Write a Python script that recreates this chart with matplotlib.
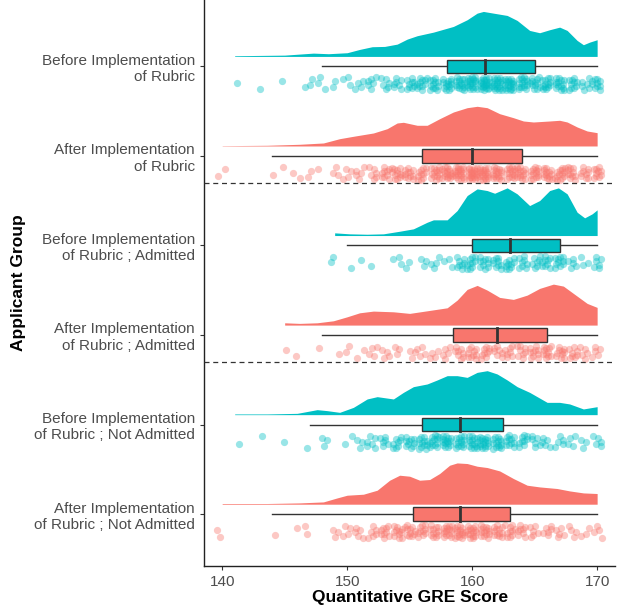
import numpy as np
import matplotlib
matplotlib.use('Agg')
import matplotlib.pyplot as plt

plt.rcParams['font.family'] = ['Liberation Sans', 'DejaVu Sans']

TEAL = '#00BFC4'
SALMON = '#F8766D'

groups = [
    'Before Implementation\nof Rubric',
    'After Implementation\nof Rubric',
    'Before Implementation\nof Rubric ; Admitted',
    'After Implementation\nof Rubric ; Admitted',
    'Before Implementation\nof Rubric ; Not Admitted',
    'After Implementation\nof Rubric ; Not Admitted',
]
colors = [TEAL, SALMON, TEAL, SALMON, TEAL, SALMON]

# density curves (x score, height in px)
dens_x1 = [141.0, 143, 145, 147.3, 148.5, 150, 151, 152, 153, 154, 154.8, 155.6, 156.9, 158.5, 159.6,
           160.4, 160.9, 161.7, 162.8, 163.6, 164.6, 165.4, 166.2, 167, 167.6, 168.4, 168.9, 169.4, 170]
dens_y1 = [0.7, 1, 1.3, 3.3, 2.7, 3.7, 7, 9.7, 10, 12.3, 17.3, 20.7, 24.3, 30, 36.7,
           43.3, 45, 43.3, 41, 36, 26, 23.7, 26.7, 29.3, 26, 16, 11.7, 14.3, 16.7]
dens_x2 = [140, 143.6, 146.2, 148.1, 149.4, 150.5, 152.1, 153.2, 154, 154.5, 155.6, 156.4, 157.4, 158.5,
           159.6, 160.4, 161.2, 162.2, 163.3, 164.1, 164.9, 166.2, 167, 167.6, 168.4, 169.2, 170]
dens_y2 = [0.3, 0.7, 1.7, 3, 7.3, 9.7, 13, 17.3, 23, 23.7, 20.7, 20.7, 27.3, 34,
           38.3, 39.7, 38.3, 32.3, 28.3, 25, 24, 25, 25.7, 24, 19, 15, 13.3]
dens_x3 = [149.0, 150.2, 151.6, 152.9, 154.2, 155.3, 156.4, 156.9, 158, 158.8, 159.6, 160.4, 161.2, 161.8,
           162.8, 163.6, 164.6, 165.4, 166.2, 166.9, 167.6, 168.4, 169, 169.6, 170]
dens_y3 = [2.7, 1.7, 1.3, 1.7, 4.3, 6.7, 13.3, 15.7, 15.7, 25, 40, 46.7, 45, 42.3,
           47.7, 41.7, 30, 35, 45, 47.7, 41.7, 23.3, 17.7, 21.7, 25.7]
dens_x4 = [145.0, 146.2, 147.6, 148.9, 150, 151, 152.1, 153.7, 155, 156.4, 158, 158.8, 159.6, 160.4,
           161.2, 162.2, 163.3, 164.4, 165.4, 166.5, 167.3, 168.1, 169.2, 170]
dens_y4 = [2.3, 1.7, 2.3, 4.3, 8.3, 12.3, 14, 13.3, 11.7, 14.3, 17.3, 25, 35.7, 39.7,
           35, 27.7, 25.7, 30, 36.7, 41, 39, 31.7, 21.7, 17.7]
dens_x5 = [141.0, 143.6, 146, 147.6, 148.4, 149.4, 150.5, 151.6, 152.4, 153.7, 154.5, 155.3, 156.4, 157.2,
           158, 158.8, 159.6, 160.4, 161.2, 162, 162.8, 163.6, 164.6, 166, 167, 167.8, 168.9, 170]
dens_y5 = [0.7, 0.7, 1.3, 5, 4, 2.3, 7.3, 15.7, 18, 15.7, 22.3, 28, 30.7, 34.7,
           39, 39, 37.3, 42.3, 44, 40.7, 34.7, 28, 22.3, 12.3, 12.3, 10.7, 5.7, 8]
dens_x6 = [140.0, 143.6, 146.2, 148.1, 149.2, 150, 151.3, 152.4, 153.4, 154.2, 155, 155.8, 156.6, 157.4,
           158.2, 158.8, 159.6, 160.4, 161.2, 162.2, 163.3, 164.4, 165.4, 166.8, 167.8, 168.9, 170]
dens_y6 = [0.7, 0.7, 1.3, 2.3, 6.3, 9, 10, 14, 24, 29, 28, 24, 24.7, 30.7,
           39, 41.3, 40.7, 38, 36.7, 33.3, 25.7, 19, 17.3, 15.7, 13.3, 11.3, 10.7]
dens_x = [dens_x1, dens_x2, dens_x3, dens_x4, dens_x5, dens_x6]
dens_y = [dens_y1, dens_y2, dens_y3, dens_y4, dens_y5, dens_y6]

# box stats: whisker low, q1, median, q3, whisker high
box_stats = [
    [148, 158, 161, 165, 170],
    [144, 156, 160, 164, 170],
    [150, 160, 163, 167, 170],
    [148, 158.5, 162, 166, 170],
    [147, 156, 159, 162.5, 170],
    [144, 155.3, 159, 163, 170],
]

# number of applicants at each score 140..170
scores = list(range(140, 171))
counts1 = [0, 1, 0, 1, 0, 1, 0, 3, 3, 2, 3, 4, 6, 6, 7, 9, 11, 12, 14, 16, 20, 22, 21, 20, 16, 12, 13, 14, 10, 6, 10]
counts2 = [2, 0, 0, 0, 1, 1, 2, 2, 1, 3, 4, 5, 6, 9, 12, 11, 11, 14, 17, 20, 22, 20, 17, 15, 14, 14, 14, 14, 11, 9, 10]
counts3 = [0, 0, 0, 0, 0, 0, 0, 0, 0, 2, 1, 1, 1, 0, 3, 2, 3, 4, 3, 8, 10, 10, 9, 10, 8, 7, 9, 10, 5, 3, 6]
counts4 = [0, 0, 0, 0, 0, 1, 1, 0, 1, 1, 2, 2, 4, 4, 3, 3, 4, 4, 5, 8, 10, 9, 7, 7, 8, 10, 11, 10, 8, 5, 5]
counts5 = [0, 1, 0, 1, 0, 1, 0, 1, 3, 0, 2, 3, 6, 6, 8, 10, 12, 13, 15, 14, 15, 16, 14, 11, 9, 6, 5, 5, 4, 3, 5]
counts6 = [2, 0, 0, 0, 1, 0, 1, 2, 0, 3, 4, 5, 6, 9, 11, 11, 10, 12, 15, 16, 15, 14, 12, 10, 8, 6, 6, 5, 4, 3, 4]
counts = [counts1, counts2, counts3, counts4, counts5, counts6]

fig = plt.figure(figsize=(6.24, 6.09), dpi=100)
ax = fig.add_axes([0.327, 0.0706, 0.659, 0.9294])

px = 1 / 89.6  # one pixel in y units
for i, g in enumerate(groups):
    pos = 6 - i
    col = colors[i]
    # half violin
    base = pos + 0.11
    ax.fill_between(dens_x[i], base, base + np.array(dens_y[i]) * px,
                    color=col, linewidth=0, zorder=2)
    # box
    lo, q1, med, q3, hi = box_stats[i]
    ax.plot([lo, q1], [pos, pos], color='#333333', lw=1, zorder=3)
    ax.plot([q3, hi], [pos, pos], color='#333333', lw=1, zorder=3)
    ax.add_patch(plt.Rectangle((q1, pos - 0.075), q3 - q1, 0.15, facecolor=col,
                               edgecolor='#333333', lw=1, zorder=3))
    ax.plot([med, med], [pos - 0.075, pos + 0.075], color='#333333', lw=2, zorder=4)
    # jittered points (deterministic spread)
    vals = np.repeat(scores, counts[i])
    k = np.arange(len(vals)) + 1
    jx = (k * 0.7548776662 + 0.3 * i) % 1 - 0.5
    jy = (k * 0.5698402910 + 0.7 * i) % 1 - 0.5
    ax.scatter(vals + jx * 0.8, pos - 0.195 + jy * 0.15, s=27, color=col,
               alpha=0.4, linewidths=0, zorder=2)

for yl in [4.7, 2.7]:
    ax.axhline(yl, color='#333333', lw=0.9, ls=(0, (4, 3)), zorder=5)

ax.set_xlim(138.55, 171.45)
ax.set_ylim(0.42, 6.74)
ax.set_yticks([6, 5, 4, 3, 2, 1])
ax.set_yticklabels(groups, fontsize=11, color='#4D4D4D', multialignment='right')
ax.set_xticks([140, 150, 160, 170])
ax.set_xticklabels(['140', '150', '160', '170'], fontsize=11, color='#4D4D4D')
ax.tick_params(length=3, width=0.8, color='#333333')
for s in ['top', 'right']:
    ax.spines[s].set_visible(False)
for s in ['left', 'bottom']:
    ax.spines[s].set_color('#222222')
    ax.spines[s].set_linewidth(1)
ax.set_xlabel('Quantitative GRE Score', fontsize=12.5, fontweight='bold', labelpad=1)
ax.set_ylabel('Applicant Group', fontsize=12.5, fontweight='bold', labelpad=6)

fig.savefig('out.png', dpi=100)
